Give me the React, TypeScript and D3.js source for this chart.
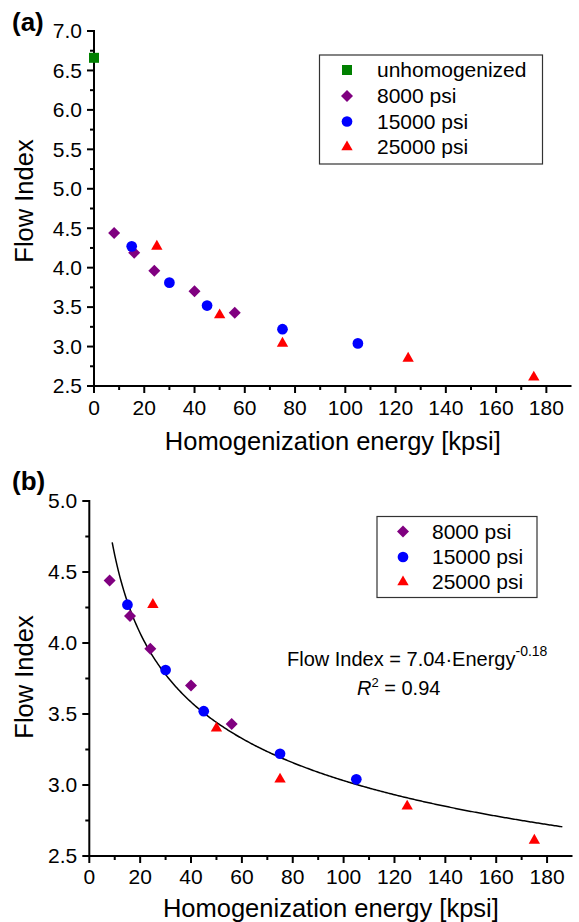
import React from "react";
import * as d3 from "d3";

const unhomEnergy = [0];
const unhomFlow = [6.66];
const energy8000 = [8, 16, 24, 40, 56];
const flow8000 = [4.44, 4.19, 3.96, 3.7, 3.43];
const energy15000 = [15, 30, 45, 75, 105];
const flow15000 = [4.27, 3.81, 3.52, 3.22, 3.04];
const energy25000 = [25, 50, 75, 125, 175];
const flow25000 = [4.27, 3.4, 3.04, 2.85, 2.61];

const xTicks = [0, 20, 40, 60, 80, 100, 120, 140, 160, 180];
const yTicksA = [2.5, 3.0, 3.5, 4.0, 4.5, 5.0, 5.5, 6.0, 6.5, 7.0];
const yTicksB = [2.5, 3.0, 3.5, 4.0, 4.5, 5.0];

const fitA = 7.04;
const fitB = -0.183;
const fitRange = [9, 186];

const FONT = "'Liberation Sans', Arial, sans-serif";

type Series = { name: string; xs: number[]; ys: number[]; color: string; shape: string };

const allSeries: Series[] = [
  { name: "unhomogenized", xs: unhomEnergy, ys: unhomFlow, color: "#008000", shape: "square" },
  { name: "8000 psi", xs: energy8000, ys: flow8000, color: "#800080", shape: "diamond" },
  { name: "15000 psi", xs: energy15000, ys: flow15000, color: "#0000ff", shape: "circle" },
  { name: "25000 psi", xs: energy25000, ys: flow25000, color: "#ff0000", shape: "triangle" },
];

function Marker({ shape, x, y, color }: { shape: string; x: number; y: number; color: string }) {
  if (shape === "square") {
    return <path d={d3.symbol(d3.symbolSquare, 100)()!} transform={`translate(${x},${y})`} fill={color} />;
  }
  if (shape === "diamond") {
    return <path d={d3.symbol(d3.symbolSquare, 72)()!} transform={`translate(${x},${y}) rotate(45)`} fill={color} />;
  }
  if (shape === "circle") {
    return <path d={d3.symbol(d3.symbolCircle, 90)()!} transform={`translate(${x},${y})`} fill={color} />;
  }
  return <path d={d3.symbol(d3.symbolTriangle, 56)()!} transform={`translate(${x},${y})`} fill={color} />;
}

type PanelProps = {
  label: string;
  x0: number;
  x1: number;
  yTop: number;
  yBot: number;
  yDomain: [number, number];
  yTicks: number[];
  series: Series[];
  legend: { x: number; y: number; w: number; h: number; mx: number; tx: number; rows: number[] };
  labelPos: [number, number];
  xTitleY: number;
  yTitleY: number;
  xTickLabelY: number;
  fit?: boolean;
};

function Panel(p: PanelProps) {
  const xs = d3.scaleLinear().domain([0, 190]).range([p.x0, p.x1]);
  const ys = d3.scaleLinear().domain(p.yDomain).range([p.yBot, p.yTop]);
  const xMinor = d3.range(10, 190, 20);
  const yMinor = p.yTicks.slice(0, -1).map((t) => t + 0.25);
  const fitPts = d3.range(fitRange[0], fitRange[1] + 0.01, 0.5).map((e) => [e, fitA * Math.pow(e, fitB)] as [number, number]);
  const fitLine = d3
    .line<[number, number]>()
    .x((d) => xs(d[0]))
    .y((d) => ys(d[1]))
    .curve(d3.curveLinear);
  return (
    <g fontFamily={FONT}>
      <text x={p.labelPos[0]} y={p.labelPos[1]} fontSize={26} fontWeight="bold" fill="#000">
        {p.label}
      </text>
      <line x1={p.x0} x2={p.x1} y1={p.yBot} y2={p.yBot} stroke="#000" strokeWidth={2} />
      <line x1={p.x0} x2={p.x0} y1={p.yTop - 1} y2={p.yBot + 1} stroke="#000" strokeWidth={2} />
      {xTicks.map((t) => (
        <g key={"xt" + t}>
          <line x1={xs(t)} x2={xs(t)} y1={p.yBot} y2={p.yBot + 7} stroke="#000" strokeWidth={2} />
          <text x={xs(t)} y={p.xTickLabelY} fontSize={21} textAnchor="middle" fill="#000">
            {t}
          </text>
        </g>
      ))}
      {xMinor.map((t) => (
        <line key={"xm" + t} x1={xs(t)} x2={xs(t)} y1={p.yBot} y2={p.yBot + 4} stroke="#000" strokeWidth={2} />
      ))}
      {p.yTicks.map((t) => (
        <g key={"yt" + t}>
          <line x1={p.x0 - 7} x2={p.x0} y1={ys(t)} y2={ys(t)} stroke="#000" strokeWidth={2} />
          <text x={p.x0 - 12} y={ys(t)} dy="0.35em" fontSize={21} textAnchor="end" fill="#000">
            {t.toFixed(1)}
          </text>
        </g>
      ))}
      {yMinor.map((t) => (
        <line key={"ym" + t} x1={p.x0 - 4} x2={p.x0} y1={ys(t)} y2={ys(t)} stroke="#000" strokeWidth={2} />
      ))}
      <text x={(p.x0 + p.x1) / 2} y={p.xTitleY} fontSize={25.5} textAnchor="middle" fill="#000">
        Homogenization energy [kpsi]
      </text>
      <text
        transform={`translate(33,${p.yTitleY}) rotate(-90)`}
        fontSize={25.5}
        textAnchor="middle"
        fill="#000"
      >
        Flow Index
      </text>
      {p.fit && <path d={fitLine(fitPts)!} fill="none" stroke="#000" strokeWidth={1.5} />}
      {p.series.map((s) =>
        s.xs.map((e, i) => <Marker key={s.name + i} shape={s.shape} x={xs(e)} y={ys(s.ys[i])} color={s.color} />)
      )}
      <rect x={p.legend.x} y={p.legend.y} width={p.legend.w} height={p.legend.h} fill="#fff" stroke="#333" strokeWidth={1.2} />
      {p.series.map((s, i) => (
        <g key={"lg" + s.name}>
          <Marker shape={s.shape} x={p.legend.mx} y={p.legend.rows[i]} color={s.color} />
          <text x={p.legend.tx} y={p.legend.rows[i]} dy="0.35em" fontSize={21} fill="#000">
            {s.name}
          </text>
        </g>
      ))}
    </g>
  );
}

export default function App() {
  return (
    <svg width={579} height={922} style={{ position: "absolute", left: 0, top: 0, background: "#fff" }}>
      <rect width={579} height={922} fill="#fff" />
      <Panel
        label="(a)"
        x0={94}
        x1={571.5}
        yTop={31}
        yBot={386}
        yDomain={[2.5, 7.0]}
        yTicks={yTicksA}
        series={allSeries}
        legend={{ x: 319.5, y: 55, w: 223, h: 109, mx: 347, tx: 377, rows: [70, 96, 121.5, 147] }}
        labelPos={[12, 31]}
        xTitleY={450}
        yTitleY={201}
        xTickLabelY={415}
      />
      <Panel
        label="(b)"
        x0={89.3}
        x1={572.5}
        yTop={501}
        yBot={856}
        yDomain={[2.5, 5.0]}
        yTicks={yTicksB}
        series={allSeries.slice(1)}
        legend={{ x: 377, y: 516.5, w: 160, h: 81, mx: 403, tx: 432, rows: [531.5, 557, 582] }}
        labelPos={[12, 490]}
        xTitleY={917}
        yTitleY={677}
        xTickLabelY={884}
        fit
      />
      <g fontFamily={FONT} fill="#000">
        <text x={287} y={666} fontSize={20}>
          Flow Index = 7.04·Energy
          <tspan dy={-10} fontSize={14}>-0.18</tspan>
        </text>
        <text x={357} y={695} fontSize={20}>
          <tspan fontStyle="italic">R</tspan>
          <tspan dy={-8} fontSize={13}>2</tspan>
          <tspan dy={8}> = 0.94</tspan>
        </text>
      </g>
    </svg>
  );
}
